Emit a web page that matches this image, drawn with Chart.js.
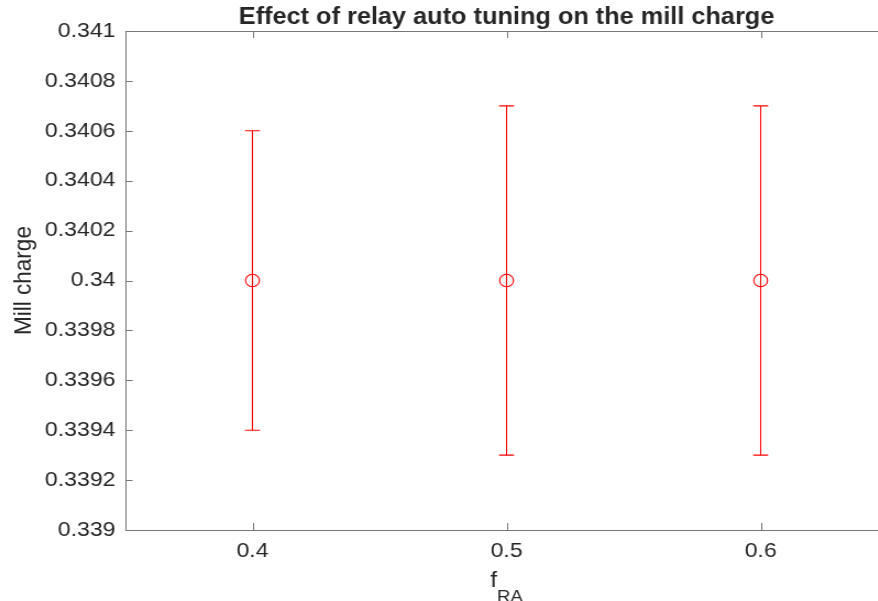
<!DOCTYPE html>
<html>
<head>
<meta charset="utf-8">
<script src="https://cdn.jsdelivr.net/npm/chart.js@4/dist/chart.umd.min.js"></script>
<style>
  html, body { margin: 0; padding: 0; background: #fff; overflow: hidden; }
  #wrap { width: 878px; height: 601px; overflow: hidden; position: relative; }
  /* the figure is drawn narrow and widened, as the exported plot was */
  #chart { position: absolute; left: 0; top: 0; transform: scaleX(1.1); transform-origin: 0 0; }
</style>
</head>
<body>
<div id="wrap"><canvas id="chart" width="820" height="601"></canvas></div>
<script>
const fRA = [0.4, 0.5, 0.6];
const millCharge = [0.34, 0.34, 0.34];
const chargeLow = [0.3394, 0.3393, 0.3393];
const chargeHigh = [0.3406, 0.3407, 0.3407];
const xTicks = [0.4, 0.5, 0.6];
const yTicks = [0.339, 0.3392, 0.3394, 0.3396, 0.3398, 0.34, 0.3402, 0.3404, 0.3406, 0.3408, 0.341];
const xRange = [0.35, 0.65];
const yRange = [0.339, 0.341];

const FONT = '"Liberation Sans", Arial, Helvetica, sans-serif';
const TEXT = '#262626';
const AXIS = '#777777';
const RED = '#ff0000';

// vertical error bars with caps, behind the markers
const errorBars = {
    id: 'errorBars',
    beforeDatasetsDraw(chart) {
        const { ctx, scales: { x, y } } = chart;
        ctx.save();
        ctx.strokeStyle = RED;
        ctx.lineWidth = 1.1;
        fRA.forEach((f, i) => {
            const px = x.getPixelForValue(f);
            const lo = y.getPixelForValue(chargeLow[i]);
            const hi = y.getPixelForValue(chargeHigh[i]);
            ctx.beginPath();
            ctx.moveTo(px, lo); ctx.lineTo(px, hi);
            ctx.moveTo(px - 6.8, lo); ctx.lineTo(px + 6.8, lo);
            ctx.moveTo(px - 6.8, hi); ctx.lineTo(px + 6.8, hi);
            ctx.stroke();
        });
        ctx.restore();
    }
};

// box around the axes with inward tick marks, plus titles
const axesFrame = {
    id: 'axesFrame',
    afterDraw(chart) {
        const { ctx, chartArea: a, scales: { x, y } } = chart;
        ctx.save();
        ctx.strokeStyle = AXIS;
        ctx.lineWidth = 1;
        ctx.beginPath();
        ctx.rect(a.left + 0.5, a.top + 0.5, a.right - a.left, a.bottom - a.top);
        xTicks.forEach(v => {
            const px = Math.round(x.getPixelForValue(v)) + 0.5;
            ctx.moveTo(px, a.bottom); ctx.lineTo(px, a.bottom - 7);
            ctx.moveTo(px, a.top); ctx.lineTo(px, a.top + 7);
        });
        yTicks.forEach(v => {
            const py = Math.round(y.getPixelForValue(v)) + 0.5;
            ctx.moveTo(a.left, py); ctx.lineTo(a.left + 6.5, py);
            ctx.moveTo(a.right, py); ctx.lineTo(a.right - 6.5, py);
        });
        ctx.stroke();

        const cx = (a.left + a.right) / 2;
        ctx.fillStyle = TEXT;
        ctx.textBaseline = 'alphabetic';

        ctx.font = 'bold 23px ' + FONT;
        ctx.textAlign = 'center';
        ctx.fillText('Effect of relay auto tuning on the mill charge', cx, 24);

        // x label: f with subscript RA
        ctx.font = '22px ' + FONT;
        const fW = ctx.measureText('f').width;
        ctx.font = '17px ' + FONT;
        const subW = ctx.measureText('RA').width;
        const x0 = cx - (fW + subW) / 2;
        ctx.textAlign = 'left';
        ctx.font = '22px ' + FONT;
        ctx.fillText('f', x0, 587);
        ctx.font = '17px ' + FONT;
        ctx.fillText('RA', x0 + fW, 602);

        ctx.save();
        ctx.translate(28, (a.top + a.bottom) / 2);
        ctx.rotate(-Math.PI / 2);
        ctx.textAlign = 'center';
        ctx.font = '22.5px ' + FONT;
        ctx.fillText('Mill charge', 0, 0);
        ctx.restore();

        ctx.restore();
    }
};

const tickFont = { family: FONT, size: 21 };

new Chart(document.getElementById('chart'), {
    type: 'scatter',
    data: {
        datasets: [{
            data: fRA.map((f, i) => ({ x: f, y: millCharge[i] })),
            pointStyle: 'circle',
            pointRadius: 6.3,
            borderColor: RED,
            borderWidth: 1.1,
            backgroundColor: 'rgba(0,0,0,0)',
            showLine: false
        }]
    },
    options: {
        responsive: false,
        animation: false,
        events: [],
        layout: { padding: { top: 31, left: 0, right: 13, bottom: 0 } },
        plugins: { legend: { display: false }, tooltip: { enabled: false } },
        scales: {
            x: {
                type: 'linear',
                min: xRange[0],
                max: xRange[1],
                grid: { display: false, drawTicks: false },
                border: { display: false },
                ticks: { color: TEXT, font: tickFont, padding: 9, maxRotation: 0, autoSkip: false },
                afterBuildTicks: s => { s.ticks = xTicks.map(v => ({ value: v })); },
                afterFit: s => { s.height = 71; }
            },
            y: {
                type: 'linear',
                min: yRange[0],
                max: yRange[1],
                grid: { display: false, drawTicks: false },
                border: { display: false },
                ticks: {
                    color: TEXT, font: tickFont, padding: 9, autoSkip: false,
                    callback: v => String(+v.toFixed(4))
                },
                afterBuildTicks: s => { s.ticks = yTicks.map(v => ({ value: v })); },
                afterFit: s => { s.width = 114; }
            }
        }
    },
    plugins: [errorBars, axesFrame]
});
</script>
</body>
</html>
